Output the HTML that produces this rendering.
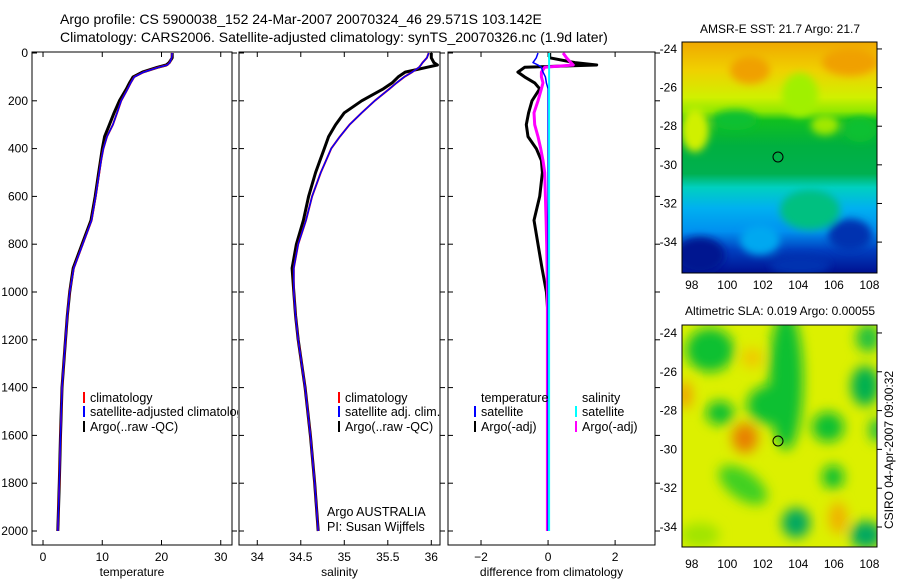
<!DOCTYPE html>
<html><head><meta charset="utf-8"><style>
body{margin:0;background:#fff;}
svg{display:block;font-family:"Liberation Sans",sans-serif;}
text{fill:#000;}
</style></head><body>
<svg id="c" width="900" height="580" viewBox="0 0 900 580">
<defs>
<filter id="bl"><feGaussianBlur stdDeviation="6"/></filter>
<filter id="bl2"><feGaussianBlur stdDeviation="4"/></filter>
<linearGradient id="sst" x1="0" y1="0" x2="0" y2="1">
<stop offset="0" stop-color="#f0a800"/><stop offset="0.12" stop-color="#f0d000"/><stop offset="0.24" stop-color="#d0f000"/>
<stop offset="0.3" stop-color="#90e800"/><stop offset="0.34" stop-color="#10c020"/><stop offset="0.45" stop-color="#00b040"/>
<stop offset="0.57" stop-color="#00b050"/><stop offset="0.63" stop-color="#00d0c0"/><stop offset="0.72" stop-color="#00b0f0"/>
<stop offset="0.82" stop-color="#0090f0"/><stop offset="0.9" stop-color="#0040c0"/><stop offset="1" stop-color="#001090"/>
</linearGradient>
<clipPath id="m1"><rect x="682" y="42" width="195" height="231"/></clipPath>
<clipPath id="m2"><rect x="682" y="325" width="195" height="222"/></clipPath>
<clipPath id="p1"><rect x="0" y="0" width="238" height="580"/></clipPath>
</defs>
<text x="60" y="24" font-size="14">Argo profile: CS 5900038_152 24-Mar-2007 20070324_46 29.571S 103.142E</text>
<text x="60" y="42" font-size="14">Climatology: CARS2006. Satellite-adjusted climatology: synTS_20070326.nc (1.9d later)</text>
<g id="g"></g>
<!-- map 1 -->
<g>
<text x="780" y="33" font-size="12" text-anchor="middle">AMSR-E SST: 21.7 Argo: 21.7</text>
<g clip-path="url(#m1)">
<rect x="682" y="42" width="195" height="231" fill="url(#sst)"/>
<g filter="url(#bl2)">
<ellipse cx="695" cy="130" rx="14" ry="22" fill="#d0f000"/>
<ellipse cx="750" cy="70" rx="20" ry="14" fill="#f0a000"/>
<ellipse cx="850" cy="62" rx="28" ry="14" fill="#f0a000"/>
<ellipse cx="800" cy="95" rx="18" ry="22" fill="#a0f000"/>
<ellipse cx="735" cy="120" rx="22" ry="10" fill="#10c030"/>
<ellipse cx="860" cy="130" rx="16" ry="12" fill="#10c030"/>
<ellipse cx="825" cy="125" rx="14" ry="10" fill="#a0e800"/>
<ellipse cx="810" cy="210" rx="30" ry="20" fill="#00c080"/>
<ellipse cx="700" cy="255" rx="25" ry="18" fill="#001490"/>
<ellipse cx="850" cy="235" rx="22" ry="16" fill="#0030b0"/>
<ellipse cx="760" cy="240" rx="20" ry="15" fill="#00a8f0"/>
<ellipse cx="800" cy="265" rx="30" ry="10" fill="#0030b0"/>
</g></g>
<rect x="682" y="42" width="195" height="231" fill="none" stroke="#000"/>
<circle cx="778" cy="157" r="5" fill="none" stroke="#000"/>
</g>
<!-- map 2 -->
<g>
<text x="780" y="315" font-size="12" text-anchor="middle">Altimetric SLA: 0.019 Argo: 0.00055</text>
<g clip-path="url(#m2)">
<rect x="682" y="325" width="195" height="222" fill="#dcf000"/>
<g filter="url(#bl)">
<ellipse cx="710" cy="350" rx="24" ry="22" fill="#10c030"/>
<ellipse cx="786" cy="380" rx="17" ry="70" fill="#10c030"/>
<ellipse cx="772" cy="405" rx="25" ry="20" fill="#10c030"/>
<ellipse cx="720" cy="413" rx="14" ry="12" fill="#10c030"/>
<ellipse cx="828" cy="427" rx="16" ry="15" fill="#10c030"/>
<ellipse cx="868" cy="338" rx="12" ry="14" fill="#20c040"/>
<ellipse cx="865" cy="386" rx="14" ry="20" fill="#00b050"/>
<ellipse cx="877" cy="430" rx="8" ry="12" fill="#20c040"/>
<ellipse cx="833" cy="477" rx="11" ry="12" fill="#10c030"/>
<ellipse cx="743" cy="485" rx="28" ry="14" fill="#40d020" transform="rotate(35 743 485)"/>
<ellipse cx="796" cy="523" rx="14" ry="15" fill="#00a860"/>
<ellipse cx="866" cy="535" rx="16" ry="14" fill="#00a860"/>
<ellipse cx="700" cy="535" rx="20" ry="12" fill="#a0e400"/>
<ellipse cx="745" cy="438" rx="13" ry="15" fill="#e88000"/>
<ellipse cx="685" cy="395" rx="7" ry="14" fill="#f0a000"/>
<ellipse cx="838" cy="518" rx="9" ry="16" fill="#f0b000"/>
<ellipse cx="752" cy="358" rx="10" ry="10" fill="#f0c800"/>
</g></g>
<rect x="682" y="325" width="195" height="222" fill="none" stroke="#000"/>
<circle cx="778" cy="441" r="5" fill="none" stroke="#000"/>
</g>
<text transform="translate(893,450) rotate(-90)" font-size="12" text-anchor="middle">CSIRO 04-Apr-2007 09:00:32</text>
</svg>
<script>
// ---- data ----
const depths=[0,20,40,50,60,80,100,125,150,200,250,300,350,400,450,500,600,700,800,900,1000,1100,1200,1400,1600,1800,2000];
const tempClim=[21.8,21.7,21.4,21,19.5,17,15.4,14.8,14.3,13.2,12.5,11.8,10.8,10.2,9.8,9.5,8.9,8.2,6.7,5.2,4.5,4.1,3.8,3.2,2.95,2.75,2.5];
const tempArgo=[21.8,21.8,21.3,20.8,19.3,16.8,15.2,14.6,14.1,12.9,12.0,11.2,10.4,10.0,9.7,9.4,8.8,8.1,6.6,5.1,4.5,4.1,3.8,3.2,2.95,2.75,2.5];
const salClim=[35.97,35.95,35.9,35.88,35.86,35.78,35.69,35.6,35.52,35.35,35.2,35.06,34.95,34.85,34.79,34.73,34.63,34.56,34.47,34.42,34.42,34.44,34.47,34.55,34.61,34.66,34.7];
const salArgo=[36.0,36.0,36.03,36.07,35.95,35.7,35.62,35.55,35.45,35.2,35.0,34.9,34.82,34.77,34.72,34.67,34.59,34.53,34.45,34.4,34.42,34.44,34.47,34.55,34.61,34.66,34.7];
const dTempArgo=[0.05,0.05,0.8,1.45,-0.7,-0.9,-0.7,-0.4,-0.25,-0.48,-0.58,-0.65,-0.6,-0.35,-0.2,-0.17,-0.25,-0.42,-0.3,-0.18,-0.05,0,0,0,0,0,0];
const dSalArgo=[0.45,0.55,0.68,0.75,-0.1,-0.2,-0.2,-0.15,-0.2,-0.3,-0.42,-0.4,-0.3,-0.22,-0.15,-0.1,-0.08,-0.06,-0.04,-0.03,-0.02,-0.02,-0.02,-0.02,-0.02,-0.02,-0.02];
const dTempSat=[-0.3,-0.35,-0.45,-0.3,-0.2,-0.15,-0.08,-0.05,0,0,0,0,0,0,0,0,0,0,0,0,0,0,0,0,0,0,0];
const dSalSat=[0.03,0.03,0.03,0.03,0.03,0.03,0.03,0.03,0.03,0.03,0.03,0.03,0.03,0.03,0.03,0.03,0.03,0.03,0.03,0.03,0.03,0.03,0.03,0.03,0.03,0.03,0.03];
const yTicks=[0,200,400,600,800,1000,1200,1400,1600,1800,2000];
const tTicks=[0,10,20,30], sTicks=[34,34.5,35,35.5,36], dTicks=[-2,0,2];
const mapXTicks=[98,100,102,104,106,108], mapYTicks=[-24,-26,-28,-30,-32,-34];
// ---- drawing ----
const NS="http://www.w3.org/2000/svg", g=document.getElementById('g');
function el(t,a,p){const e=document.createElementNS(NS,t);for(const k in a)e.setAttribute(k,a[k]);(p||g).appendChild(e);return e;}
const Y=d=>53+d*0.239;
const panels=[
 {x0:32,x1:232,lo:-1.86,hi:31.9,ticks:tTicks,label:'temperature',n:'temperature-panel'},
 {x0:239,x1:440,lo:33.79,hi:36.1,ticks:sTicks,label:'salinity',n:'salinity-panel'},
 {x0:448,x1:655,lo:-2.985,hi:3.19,ticks:dTicks,label:'difference from climatology',n:'difference-panel'}];
panels.forEach((p,i)=>{p.X=v=>p.x0+(v-p.lo)/(p.hi-p.lo)*(p.x1-p.x0);
 const r=el('rect',{x:p.x0,y:52,width:p.x1-p.x0,height:493,fill:'none',stroke:'#000'});
 
 
 p.ticks.forEach(t=>{const x=p.X(t);el('line',{x1:x,x2:x,y1:545,y2:540,stroke:'#000'});el('line',{x1:x,x2:x,y1:52,y2:57,stroke:'#000'});
  const tx=el('text',{x:x,y:561,'font-size':12,'text-anchor':'middle'});tx.textContent=(t<0?'\u2212'+(-t):t);
  
  });
 const lb=el('text',{x:(p.x0+p.x1)/2,y:576,'font-size':12,'text-anchor':'middle'});lb.textContent=p.label;
 
 
 yTicks.forEach(d=>{el('line',{x1:p.x0,x2:p.x0+5,y1:Y(d),y2:Y(d),stroke:'#000'});el('line',{x1:p.x1,x2:p.x1+5,y1:Y(d),y2:Y(d),stroke:'#000'});
  if(i==0){const t=el('text',{x:28,y:Y(d)+4,'font-size':12,'text-anchor':'end'});t.textContent=d;
   
   }});
});
function line(p,vals,col,w,name){const pts=vals.map((v,j)=>p.X(v).toFixed(1)+','+Y(depths[j]).toFixed(1)).join(' ');
 const l=el('polyline',{points:pts,fill:'none',stroke:col,'stroke-width':w,'stroke-linejoin':'round'});
 
 }
const P=panels;
line(P[0],tempArgo,'#000',3,'temperature-argo-line');line(P[0],tempClim,'#f00',2,'temperature-climatology-line');line(P[0],tempClim,'#00f',1.5,'temperature-satellite-line');
line(P[1],salArgo,'#000',3,'salinity-argo-line');line(P[1],salClim,'#f00',2,'salinity-climatology-line');line(P[1],salClim,'#00f',1.5,'salinity-satellite-line');
line(P[2],dTempArgo,'#000',3,'temp-diff-argo-line');line(P[2],dSalArgo,'#f0f',3,'sal-diff-argo-line');line(P[2],dTempSat,'#00f',1.5,'temp-diff-satellite-line');line(P[2],dSalSat,'#0ff',2,'sal-diff-satellite-line');
function leg(x,y,col,txt,clip){el('line',{x1:x,x2:x,y1:y-10,y2:y+1,stroke:col,'stroke-width':2});const t=el('text',{x:x+6,y:y,'font-size':12.5});t.textContent=txt;
 if(clip)t.setAttribute('clip-path','url(#p1)');
 
 }
leg(84,402,'#f00','climatology',1);leg(84,416,'#00f','satellite-adjusted climatology',1);leg(84,431,'#000','Argo(..raw -QC)',1);
leg(339,402,'#f00','climatology');leg(339,416,'#00f','satellite adj. clim.');leg(339,431,'#000','Argo(..raw -QC)');
let t=el('text',{x:481,y:402,'font-size':12.5});t.textContent='temperature';
let t2=el('text',{x:582,y:402,'font-size':12.5});t2.textContent='salinity';
leg(475,416,'#00f','satellite');leg(475,431,'#000','Argo(-adj)');leg(576,416,'#0ff','satellite');leg(576,431,'#f0f','Argo(-adj)');
let a=el('text',{x:327,y:516,'font-size':12.5});a.textContent='Argo AUSTRALIA';
let b=el('text',{x:327,y:531,'font-size':12.5});b.textContent='PI: Susan Wijffels';
// map axes
[[42,273,-23.64,-35.6],[325,547,-23.59,-35.03]].forEach(([y0,y1,top,bot],k)=>{
 mapXTicks.forEach(v=>{const x=682+(v-97.45)/(108.43-97.45)*195;el('line',{x1:x,x2:x,y1:y1,y2:y1-4,stroke:'#000'});
  const tx=el('text',{x:x,y:k==0?289:568,'font-size':12,'text-anchor':'middle'});tx.textContent=v;
  
  });
 mapYTicks.forEach(v=>{const y=y0+(top-v)/(top-bot)*(y1-y0);el('line',{x1:877,x2:882,y1:y,y2:y,stroke:'#000'});
  const tx=el('text',{x:677,y:y+4,'font-size':12,'text-anchor':'end'});tx.textContent='-'+(-v);
  
  });
});
</script>
</body></html>
